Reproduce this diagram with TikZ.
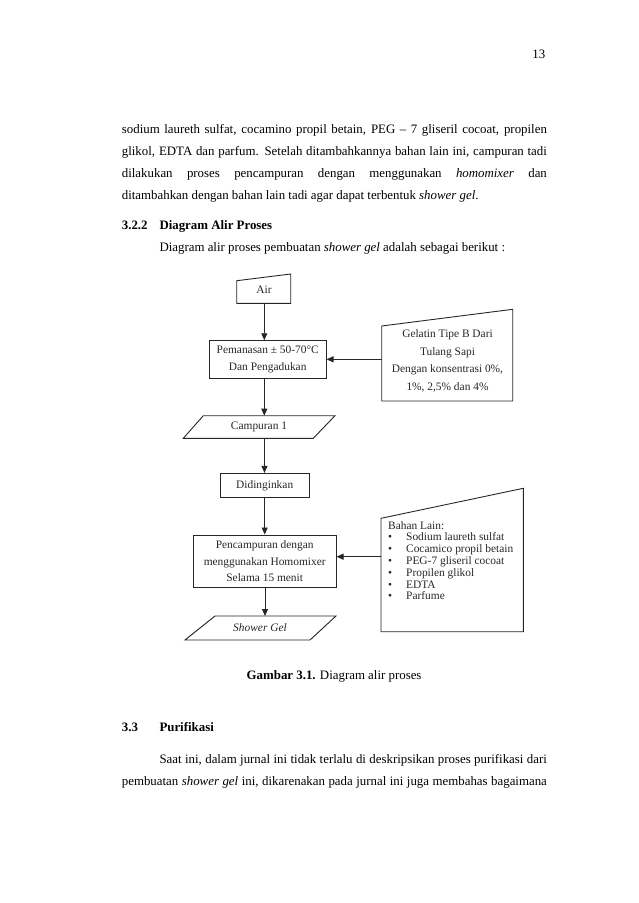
\documentclass[tikz,border=0pt]{standalone}
\usepackage{fontspec}
\setmainfont{Liberation Serif}
\usetikzlibrary{arrows.meta}
\begin{document}
\begin{tikzpicture}[x=1pt,y=-1pt,
  body/.style={font=\fontsize{12.87}{15}\selectfont, inner sep=0pt, anchor=base west},
  dtext/.style={font=\fontsize{11.4}{17.5}\selectfont, text=black!85, inner sep=0pt},
  box/.style={draw=black!85, line width=0.9pt, inner sep=0pt, align=center},
  shp/.style={draw=black!85, line width=0.9pt, line join=miter},
  arr/.style={draw=black!85, line width=0.9pt, -{Triangle[length=7pt,width=6pt]}}
]
\useasboundingbox (0,0) rectangle (638,903);

% ---------- page text ----------
\node[body, anchor=base east] (pg) at (545.5,58) {13};
\node[body] (l1) at (121.7,133.5) {\makebox[425pt][s]{sodium laureth sulfat, cocamino propil betain, PEG – 7 gliseril cocoat, propilen}};
\node[body] (l2) at (121.7,155.5) {\makebox[425pt][s]{glikol, EDTA dan parfum. Setelah ditambahkannya bahan lain ini, campuran tadi}};
\node[body] (l3) at (121.7,177.5) {\makebox[425pt][s]{dilakukan proses pencampuran dengan menggunakan \textit{homomixer} dan}};
\node[body] (l4) at (121.7,199.5) {ditambahkan dengan bahan lain tadi agar dapat terbentuk \textit{shower gel}.};
\node[body] (h1) at (121.7,229) {\textbf{3.2.2}};
\node[body] (h1t) at (159.3,229) {\textbf{Diagram Alir Proses}};
\node[body] (p2) at (159.3,251.5) {Diagram alir proses pembuatan \textit{shower gel} adalah sebagai berikut :};
\node[body] (cap) at (246.5,679) {\textbf{Gambar 3.1.} Diagram alir proses};
\node[body] (h2) at (121.7,731) {\textbf{3.3}};
\node[body] (h2t) at (159.3,731) {\textbf{Purifikasi}};
\node[body] (p3a) at (159.3,763.5) {\makebox[387.4pt][s]{Saat ini, dalam jurnal ini tidak terlalu di deskripsikan proses purifikasi dari}};
\node[body] (p3b) at (121.7,785) {\makebox[425pt][s]{pembuatan \textit{shower gel} ini, dikarenakan pada jurnal ini juga membahas bagaimana}};

% ---------- diagram ----------
% Air (manual input)
\draw[shp] (236.7,280.7) -- (290.7,274) -- (290.7,303.3) -- (236.7,303.3) -- cycle;
\node[dtext] (air) at (264,289.3) {Air};
\coordinate (airS) at (264.3,303.3);

% Pemanasan
\node[box, dtext, draw=black!85, minimum width=116.7pt, minimum height=37.6pt] (pem) at (267.7,359.5)
  {Pemanasan ± 50-70°C\\Dan Pengadukan};

% Gelatin (manual input)
\draw[shp] (381.7,326) -- (512.7,309.3) -- (512.7,401) -- (381.7,401) -- cycle;
\node[dtext, align=center] (gel) at (447.5,361)
  {Gelatin Tipe B Dari\\Tulang Sapi\\Dengan konsentrasi 0\%,\\1\%, 2,5\% dan 4\%};
\coordinate (gelW) at (381.7,359.3);

% Campuran 1
\draw[shp] (203.3,415.7) -- (335,415.7) -- (313.3,438.3) -- (183.3,438.3) -- cycle;
\node[dtext] (camp) at (259,426.7) {Campuran 1};
\coordinate (campN) at (264.3,415.7);
\coordinate (campS) at (264.5,438.3);

% Didinginkan
\node[box, dtext, draw=black!85, minimum width=89.3pt, minimum height=24.4pt] (didi) at (264.7,485.5) {Didinginkan};

% Pencampuran
\node[box, dtext, draw=black!85, font=\fontsize{11.4}{16.7}\selectfont, minimum width=142.7pt, minimum height=52.7pt] (penc) at (264.7,561.3)
  {Pencampuran dengan\\menggunakan Homomixer\\Selama 15 menit};

% Bahan Lain
\draw[shp] (381,518.3) -- (523.3,488.3) -- (523.3,631.7) -- (381,631.7) -- cycle;
\coordinate (bahW) at (381,556.7);
\node[dtext, anchor=base west] (b0) at (388,529) {Bahan Lain:};
\foreach \t [count=\i] in {Sodium laureth sulfat, Cocamico propil betain, PEG-7 gliseril cocoat, Propilen glikol, EDTA, Parfume}{
  \node[dtext, anchor=base west] (b\i) at (388,529+11.8*\i) {\makebox[18pt][l]{•}\t};
}

% Shower Gel
\draw[shp] (215,616) -- (336,616) -- (310,640) -- (185,640) -- cycle;
\node[dtext, font=\fontsize{11.4}{13}\selectfont\itshape] (show) at (260,627.5) {Shower Gel};
\coordinate (showN) at (265,616);

% connectors
\draw[arr] (airS) -- (pem.north -| airS);
\draw[arr] (gelW) -- (gelW -| pem.east);
\draw[arr] (pem.south -| campN) -- (campN);
\draw[arr] (campS) -- (campS |- didi.north);
\draw[arr] (didi.south) -- (penc.north);
\draw[arr] (bahW) -- (bahW -| penc.east);
\draw[arr] (penc.south -| showN) -- (showN);
\end{tikzpicture}
\end{document}
